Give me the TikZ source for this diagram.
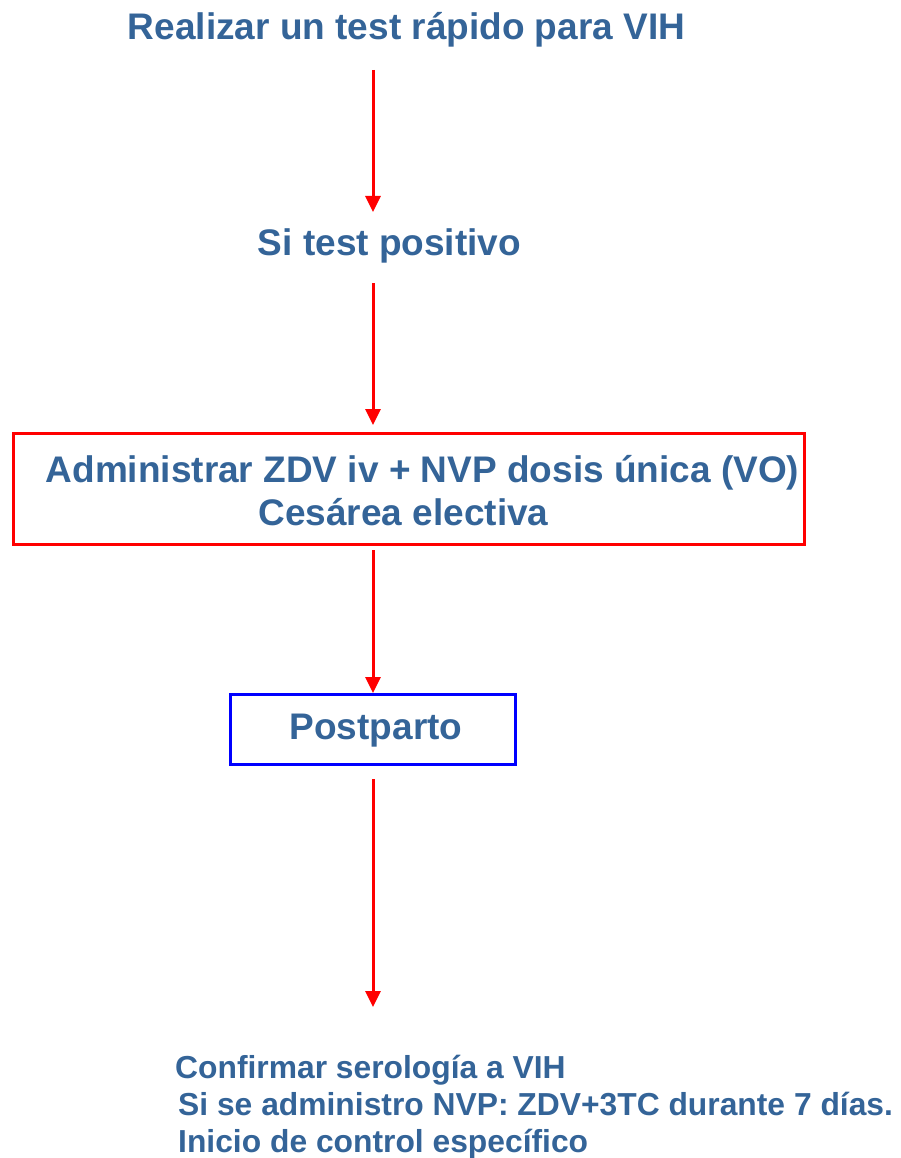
\documentclass[tikz,border=0pt]{standalone}
\usepackage{fontspec}
\setmainfont{Liberation Sans}
\usetikzlibrary{arrows.meta,calc}
\definecolor{txt}{RGB}{52,100,152}
\begin{document}
\begin{tikzpicture}[x=1pt,y=-1pt,
 lbl/.style={text=txt,font=\fontsize{37}{43}\selectfont\bfseries,inner sep=0pt,anchor=base},
 small/.style={text=txt,font=\fontsize{31.8}{37}\selectfont\bfseries,inner sep=0pt,anchor=base west},
 flow/.style={draw=red,line width=3pt,-{Triangle[width=15pt,length=16pt]}},
 redbox/.style={draw=red,line width=3pt,inner sep=0pt},
 bluebox/.style={draw=blue,line width=3pt,inner sep=0pt}
]
\useasboundingbox (0,0) rectangle (901,1158);
\coordinate (col) at (373,0);
\node[lbl] (title) at (406.5,40) {Realizar un test rápido para VIH};
\node[lbl] (si) at (389.5,255) {Si test positivo};
\node[redbox,minimum width=791pt,minimum height=111pt] (box) at (409,489) {};
\node[lbl] (l1) at (422.5,482) {Administrar ZDV iv + NVP dosis única (VO)};
\node[lbl] (l2) at (403.5,525) {Cesárea electiva};
\node[bluebox,minimum width=285pt,minimum height=70pt] (post) at (373,729.5) {};
\node[lbl] (pt) at (376,739) {Postparto};
\node[small] (b1) at (175,1078) {Confirmar serología a VIH};
\node[small] (b2) at (178,1115) {Si se administro NVP: ZDV+3TC durante 7 días.};
\node[small] (b3) at (178,1152) {Inicio de control específico};
\coordinate (e4) at (373,1007);
\draw[flow] ($(title.base -| col)+(0,30)$) -- ($(si.north -| col)+(0,-16)$);
\draw[flow] ($(si.base -| col)+(0,28)$) -- ($(box.north -| col)+(0,-7)$);
\draw[flow] ($(box.south -| col)+(0,4)$) -- (post.north -| col);
\draw[flow] ($(post.south -| col)+(0,13)$) -- (e4);
\end{tikzpicture}
\end{document}
